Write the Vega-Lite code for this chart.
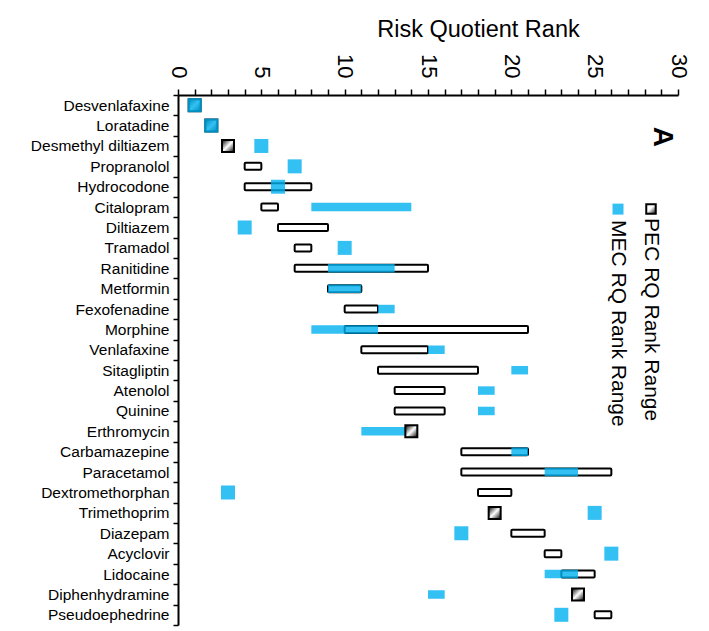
{
  "$schema": "https://vega.github.io/schema/vega-lite/v6.json",
  "autosize": {"type": "none"},
  "padding": {"left": 178, "top": 95, "right": 31, "bottom": 6},
  "width": 500,
  "height": 530,
  "background": "white",
  "config": {
    "view": {"stroke": null},
    "font": "Liberation Sans",
    "axis": {"domainColor": "black", "tickColor": "black", "labelColor": "black", "titleColor": "black", "grid": false}
  },
  "data": {
    "values": [
      {"drug": "Desvenlafaxine", "series": "PEC", "lo": 1, "hi": 1},
      {"drug": "Desvenlafaxine", "series": "MEC", "lo": 1, "hi": 1},
      {"drug": "Loratadine", "series": "PEC", "lo": 2, "hi": 2},
      {"drug": "Loratadine", "series": "MEC", "lo": 2, "hi": 2},
      {"drug": "Desmethyl diltiazem", "series": "PEC", "lo": 3, "hi": 3},
      {"drug": "Desmethyl diltiazem", "series": "MEC", "lo": 5, "hi": 5},
      {"drug": "Propranolol", "series": "PEC", "lo": 4, "hi": 5},
      {"drug": "Propranolol", "series": "MEC", "lo": 7, "hi": 7},
      {"drug": "Hydrocodone", "series": "PEC", "lo": 4, "hi": 8},
      {"drug": "Hydrocodone", "series": "MEC", "lo": 6, "hi": 6},
      {"drug": "Citalopram", "series": "PEC", "lo": 5, "hi": 6},
      {"drug": "Citalopram", "series": "MEC", "lo": 8, "hi": 14},
      {"drug": "Diltiazem", "series": "PEC", "lo": 6, "hi": 9},
      {"drug": "Diltiazem", "series": "MEC", "lo": 4, "hi": 4},
      {"drug": "Tramadol", "series": "PEC", "lo": 7, "hi": 8},
      {"drug": "Tramadol", "series": "MEC", "lo": 10, "hi": 10},
      {"drug": "Ranitidine", "series": "PEC", "lo": 7, "hi": 15},
      {"drug": "Ranitidine", "series": "MEC", "lo": 9, "hi": 13},
      {"drug": "Metformin", "series": "PEC", "lo": 9, "hi": 11},
      {"drug": "Metformin", "series": "MEC", "lo": 9, "hi": 11},
      {"drug": "Fexofenadine", "series": "PEC", "lo": 10, "hi": 12},
      {"drug": "Fexofenadine", "series": "MEC", "lo": 12, "hi": 13},
      {"drug": "Morphine", "series": "PEC", "lo": 10, "hi": 21},
      {"drug": "Morphine", "series": "MEC", "lo": 8, "hi": 12},
      {"drug": "Venlafaxine", "series": "PEC", "lo": 11, "hi": 15},
      {"drug": "Venlafaxine", "series": "MEC", "lo": 15, "hi": 16},
      {"drug": "Sitagliptin", "series": "PEC", "lo": 12, "hi": 18},
      {"drug": "Sitagliptin", "series": "MEC", "lo": 20, "hi": 21},
      {"drug": "Atenolol", "series": "PEC", "lo": 13, "hi": 16},
      {"drug": "Atenolol", "series": "MEC", "lo": 18, "hi": 19},
      {"drug": "Quinine", "series": "PEC", "lo": 13, "hi": 16},
      {"drug": "Quinine", "series": "MEC", "lo": 18, "hi": 19},
      {"drug": "Erthromycin", "series": "PEC", "lo": 14, "hi": 14},
      {"drug": "Erthromycin", "series": "MEC", "lo": 11, "hi": 14},
      {"drug": "Carbamazepine", "series": "PEC", "lo": 17, "hi": 21},
      {"drug": "Carbamazepine", "series": "MEC", "lo": 20, "hi": 21},
      {"drug": "Paracetamol", "series": "PEC", "lo": 17, "hi": 26},
      {"drug": "Paracetamol", "series": "MEC", "lo": 22, "hi": 24},
      {"drug": "Dextromethorphan", "series": "PEC", "lo": 18, "hi": 20},
      {"drug": "Dextromethorphan", "series": "MEC", "lo": 3, "hi": 3},
      {"drug": "Trimethoprim", "series": "PEC", "lo": 19, "hi": 19},
      {"drug": "Trimethoprim", "series": "MEC", "lo": 25, "hi": 25},
      {"drug": "Diazepam", "series": "PEC", "lo": 20, "hi": 22},
      {"drug": "Diazepam", "series": "MEC", "lo": 17, "hi": 17},
      {"drug": "Acyclovir", "series": "PEC", "lo": 22, "hi": 23},
      {"drug": "Acyclovir", "series": "MEC", "lo": 26, "hi": 26},
      {"drug": "Lidocaine", "series": "PEC", "lo": 23, "hi": 25},
      {"drug": "Lidocaine", "series": "MEC", "lo": 22, "hi": 24},
      {"drug": "Diphenhydramine", "series": "PEC", "lo": 24, "hi": 24},
      {"drug": "Diphenhydramine", "series": "MEC", "lo": 15, "hi": 16},
      {"drug": "Pseudoephedrine", "series": "PEC", "lo": 25, "hi": 26},
      {"drug": "Pseudoephedrine", "series": "MEC", "lo": 23, "hi": 23}
    ]
  },
  "encoding": {
    "y": {
      "field": "drug", "type": "nominal",
      "scale": {
        "domain": ["Desvenlafaxine", "Loratadine", "Desmethyl diltiazem", "Propranolol", "Hydrocodone", "Citalopram", "Diltiazem", "Tramadol", "Ranitidine", "Metformin", "Fexofenadine", "Morphine", "Venlafaxine", "Sitagliptin", "Atenolol", "Quinine", "Erthromycin", "Carbamazepine", "Paracetamol", "Dextromethorphan", "Trimethoprim", "Diazepam", "Acyclovir", "Lidocaine", "Diphenhydramine", "Pseudoephedrine"],
        "paddingInner": 0, "paddingOuter": 0
      },
      "axis": {
        "orient": "left", "title": null, "domainWidth": 2, "tickBand": "extent",
        "tickSize": 5, "tickWidth": 1.5, "labelPadding": 4, "labelFontSize": 15.5,
        "labelFont": "Liberation Sans", "labelLimit": 300
      }
    },
    "x": {
      "field": "lo", "type": "quantitative",
      "scale": {"domain": [0, 30], "nice": false, "zero": false},
      "axis": {
        "orient": "top",
        "values": [0,1,2,3,4,5,6,7,8,9,10,11,12,13,14,15,16,17,18,19,20,21,22,23,24,25,26,27,28,29,30],
        "labelExpr": "datum.value % 5 === 0 ? datum.label : ''",
        "labelAngle": 90, "labelAlign": "right", "labelBaseline": "middle",
        "labelOverlap": false, "labelFlush": false,
        "labelFontSize": 22, "labelPadding": 11, "labelFont": "Liberation Sans",
        "tickSize": 6, "tickWidth": 1.5, "domainWidth": 2,
        "title": "Risk Quotient Rank", "titleFontSize": 23.5, "titleFontWeight": "normal",
        "titleFont": "Liberation Sans", "titleX": 300, "titleY": -59,
        "titleAlign": "center", "titleBaseline": "alphabetic"
      }
    }
  },
  "layer": [
    {
      "transform": [{"filter": "datum.series === 'PEC' && datum.hi > datum.lo"}],
      "mark": {"type": "bar", "fill": "white", "stroke": "black", "strokeWidth": 2, "height": 7, "cornerRadius": 1},
      "encoding": {"x2": {"field": "hi"}}
    },
    {
      "transform": [{"filter": "datum.series === 'MEC' && datum.hi > datum.lo"}],
      "mark": {"type": "bar", "fill": "#00B0F0", "opacity": 0.8, "height": 8.5, "strokeWidth": 0},
      "encoding": {"x2": {"field": "hi"}}
    },
    {
      "transform": [{"filter": "datum.series === 'PEC' && datum.hi === datum.lo"}],
      "mark": {
        "type": "point", "shape": "square", "size": 144, "filled": true, "opacity": 1,
        "fill": {"gradient": "linear", "x1": 0, "y1": 0, "x2": 1, "y2": 1,
          "stops": [{"offset": 0, "color": "#000000"}, {"offset": 0.5, "color": "#ffffff"}, {"offset": 1, "color": "#000000"}]},
        "stroke": "black", "strokeWidth": 2
      }
    },
    {
      "transform": [{"filter": "datum.series === 'MEC' && datum.hi === datum.lo"}],
      "mark": {"type": "point", "shape": "square", "size": 196, "filled": true, "fill": "#00B0F0", "opacity": 0.8, "strokeWidth": 0}
    },
    {
      "transform": [{"filter": "datum.drug === 'Citalopram' && datum.series === 'PEC'"}],
      "mark": {
        "type": "point", "shape": "square", "size": 90, "filled": true, "opacity": 1,
        "fill": {"gradient": "linear", "x1": 0, "y1": 0, "x2": 1, "y2": 1,
          "stops": [{"offset": 0, "color": "#ffffff"}, {"offset": 0.45, "color": "#ffffff"}, {"offset": 1, "color": "#000000"}]},
        "stroke": "black", "strokeWidth": 2, "yOffset": 2
      },
      "encoding": {"x": {"datum": 28.38}, "y": {"datum": "Citalopram"}}
    },
    {
      "transform": [{"filter": "datum.drug === 'Citalopram' && datum.series === 'MEC'"}],
      "mark": {"type": "point", "shape": "square", "size": 121, "filled": true, "fill": "#00B0F0", "opacity": 0.8, "strokeWidth": 0, "yOffset": 2},
      "encoding": {"x": {"datum": 26.4}, "y": {"datum": "Citalopram"}}
    },
    {
      "transform": [{"filter": "datum.drug === 'Citalopram' && datum.series === 'PEC'"}],
      "mark": {"type": "text", "text": "PEC RQ Rank Range", "angle": 90, "align": "left", "baseline": "middle", "fontSize": 21, "font": "Liberation Sans", "fill": "black", "dx": 11},
      "encoding": {"x": {"datum": 28.35}, "y": {"datum": "Citalopram"}}
    },
    {
      "transform": [{"filter": "datum.drug === 'Citalopram' && datum.series === 'MEC'"}],
      "mark": {"type": "text", "text": "MEC RQ Rank Range", "angle": 90, "align": "left", "baseline": "middle", "fontSize": 21, "font": "Liberation Sans", "fill": "black", "dx": 13},
      "encoding": {"x": {"datum": 26.4}, "y": {"datum": "Citalopram"}}
    },
    {
      "transform": [{"filter": "datum.drug === 'Desmethyl diltiazem' && datum.series === 'PEC'"}],
      "mark": {"type": "text", "text": "A", "angle": 90, "align": "center", "baseline": "middle", "fontSize": 28, "fontWeight": "bold", "font": "Liberation Sans", "fill": "black", "yOffset": -9},
      "encoding": {"x": {"datum": 29.04}, "y": {"datum": "Desmethyl diltiazem"}}
    }
  ]
}
